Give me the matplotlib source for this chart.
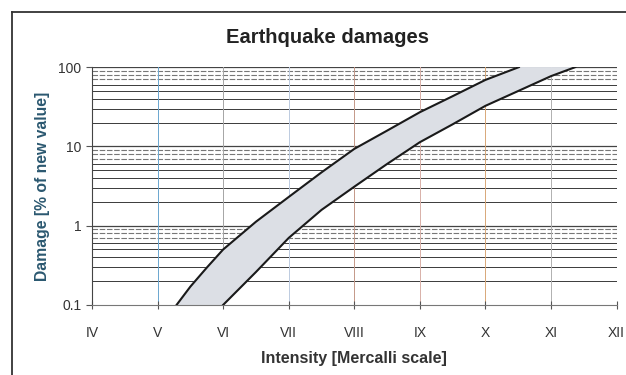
import numpy as np
import matplotlib
matplotlib.use("Agg")
import matplotlib.pyplot as plt
from matplotlib.lines import Line2D

plt.rcParams['font.family'] = ['Liberation Sans', 'DejaVu Sans']

# intensity values (Mercalli, IV = 4 ... XII = 12)
upper_x = [5.29, 5.5, 5.75, 6.0, 6.5, 7.0, 7.5, 8.0, 8.5, 9.0, 9.5, 10.0, 10.51]
upper_y = [0.1, 0.17, 0.295, 0.5, 1.12, 2.3, 4.7, 9.3, 15.8, 27, 43, 69, 100]
lower_x = [6.0, 6.5, 7.0, 7.5, 8.0, 8.5, 9.0, 9.5, 10.0, 10.5, 11.0, 11.37]
lower_y = [0.1, 0.26, 0.7, 1.58, 3.1, 6.0, 11.3, 19, 32.5, 50, 77, 100]

intensity = [4, 5, 6, 7, 8, 9, 10, 11, 12]
roman = ['IV', 'V', 'VI', 'VII', 'VIII', 'IX', 'X', 'XI', 'XII']
vcolors = ['#7fb0d0', '#6aa6cf', '#a5a5a5', '#bccbe0', '#c49888', '#d8b0a8', '#d8a878', '#b0b0b0', '#a8a8a8']

fig = plt.figure(figsize=(6.26, 3.75), dpi=100)
ax = fig.add_axes([0.147, 0.187, 0.838, 0.634])

# band between the two curves
poly_x = np.concatenate([upper_x, lower_x[::-1]])
poly_y = np.concatenate([upper_y, lower_y[::-1]])
ax.fill(poly_x, poly_y, color='#dcdfe5', zorder=2)
ax.plot(upper_x, upper_y, color='#1a1a1a', lw=1.5, solid_joinstyle='round', zorder=3)
ax.plot(lower_x, lower_y, color='#1a1a1a', lw=1.5, solid_joinstyle='round', zorder=3)

ax.set_yscale('log')
ax.set_xlim(4, 12)
ax.set_ylim(0.1, 100)

# horizontal grid
for dec in [0.1, 1, 10]:
    for m in range(1, 10):
        v = dec * m
        if v <= 0.1:
            continue
        if m == 1:
            ax.axhline(v, color='#444444', lw=0.9, zorder=1)
        elif m >= 7:
            ax.axhline(v, color='#777777', lw=0.8, ls=(0, (5, 1.5)), zorder=1)
        else:
            ax.axhline(v, color='#3a3a3a', lw=0.7, zorder=1)
ax.axhline(100, color='#444444', lw=0.9, zorder=1)

# vertical grid
for xv, c in zip(intensity[1:-1], vcolors[1:-1]):
    ax.axvline(xv, color=c, lw=0.7, zorder=1)

ax.set_xticks(intensity)
ax.set_xticklabels(roman)
ax.set_yticks([0.1, 1, 10, 100])
ax.set_yticklabels(['0.1', '1', '10', '100'])
ax.minorticks_off()
ax.tick_params(axis='x', direction='inout', length=6, colors='#555555', labelcolor='#333333', labelsize=10, pad=12)
ax.tick_params(axis='y', direction='out', length=4, colors='#555555', labelcolor='#333333', labelsize=10)

for s in ['top', 'right']:
    ax.spines[s].set_visible(False)
ax.spines['left'].set_color('#444444')
ax.spines['bottom'].set_color('#777777')

ax.set_xlabel('Intensity [Mercalli scale]', fontsize=11.5, fontweight='bold', color='#333333', labelpad=8)
ax.set_ylabel('Damage [% of new value]', fontsize=11.3, fontweight='bold', color='#2b5870', labelpad=6)
fig.text(0.523, 0.899, 'Earthquake damages', ha='center', va='center', fontsize=14.5, fontweight='bold', color='#222222')

# outer frame of the scanned chart
fig.add_artist(Line2D([0.019, 1.0], [0.968, 0.968], color='#333333', lw=1.3))
fig.add_artist(Line2D([0.019, 0.019], [0.0, 0.968], color='#333333', lw=1.3))

fig.savefig('out.png', dpi=100)
